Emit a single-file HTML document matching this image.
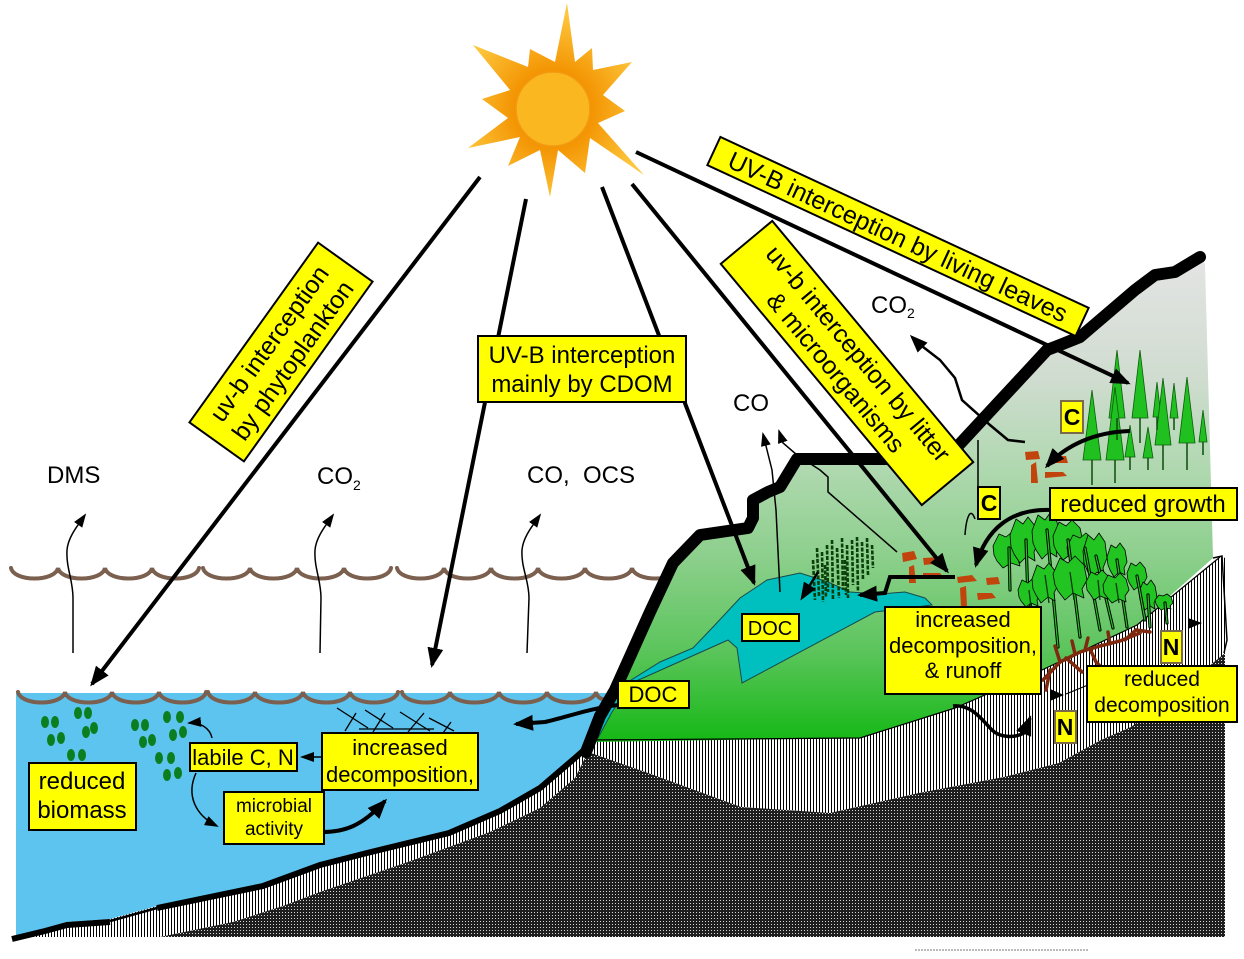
<!DOCTYPE html>
<html><head><meta charset="utf-8"><style>
html,body{margin:0;padding:0;background:#fff;}
svg{display:block;}
text{font-family:"Liberation Sans",Arial,sans-serif;fill:#000;}
</style></head><body>
<svg width="1244" height="959" viewBox="0 0 1244 959" xmlns="http://www.w3.org/2000/svg">
<defs>
<linearGradient id="mt" gradientUnits="userSpaceOnUse" x1="0" y1="257" x2="0" y2="742">
<stop offset="0" stop-color="#e4e4e4"/>
<stop offset="0.25" stop-color="#d0dcd0"/>
<stop offset="0.44" stop-color="#afd8af"/>
<stop offset="0.62" stop-color="#8ccf8c"/>
<stop offset="0.81" stop-color="#5cc55c"/>
<stop offset="1" stop-color="#15b815"/>
</linearGradient>
<radialGradient id="sun" gradientUnits="userSpaceOnUse" cx="553" cy="109" r="95">
<stop offset="0.38" stop-color="#f39200"/>
<stop offset="1" stop-color="#fdc63c"/>
</radialGradient>
<pattern id="stripe" width="3" height="10" patternUnits="userSpaceOnUse"><rect width="3" height="10" fill="#fff"/><rect width="1" height="10" fill="#000"/></pattern>
<pattern id="rock" width="3" height="3" patternUnits="userSpaceOnUse"><rect width="3" height="3" fill="#1e1e1e"/><rect width="1" height="1" fill="#d8d8d8"/></pattern>
<marker id="ab" viewBox="0 0 20 16" refX="17" refY="8" markerWidth="20" markerHeight="16" orient="auto" markerUnits="userSpaceOnUse"><path d="M0,0 L20,8 L0,16 z" fill="#000"/></marker>
<marker id="am" viewBox="0 0 18 14" refX="15" refY="7" markerWidth="18" markerHeight="14" orient="auto" markerUnits="userSpaceOnUse"><path d="M0,0 L18,7 L0,14 z" fill="#000"/></marker>
<marker id="as" viewBox="0 0 14 10" refX="12" refY="5" markerWidth="14" markerHeight="10" orient="auto" markerUnits="userSpaceOnUse"><path d="M0,0 L14,5 L0,10 z" fill="#000"/></marker>
</defs>

<rect width="1244" height="959" fill="#fff"/>

<!-- upper waves -->
<path d="M11,568 C14,582 55,582 58,568 C61,582 102,582 105,568 C108,582 149,582 152,568 C155,582 196,582 199,568 M203,568 C206,582 247,582 250,568 C253,582 294,582 297,568 C300,582 341,582 344,568 C347,582 388,582 391,568 M397,568 C400,582 441,582 444,568 C447,582 488,582 491,568 C494,582 535,582 538,568 C541,582 582,582 585,568 C588,582 629,582 632,568 C635,582 676,582 679,568" fill="none" stroke="#7b6050" stroke-width="4" stroke-linecap="round"/>

<!-- soil stripes (big) -->
<path d="M10,937 L16,937 L45,928 L67,922 L110,919 L157,906 L263,883 L320,862 L367,850 L449,830 L500,808 L540,785 L575,755 L590,740 L860,738 L955,708 L1042,670 L1137,625 L1220,557 L1226,558 L1227,640 L1226,937 Z" fill="url(#stripe)"/>
<!-- bedrock -->
<path d="M160,937 L233,922 L283,906 L320,892 L408,862 L490,832 L540,808 L575,778 L588,752 L648,773 L741,807 L830,813 L919,793 L1004,777 L1059,763 L1101,740 L1131,727 L1180,690 L1225,653 L1225,937 Z" fill="url(#rock)"/>

<!-- sea -->
<path d="M16,693 L616,693 L612,700 L598,720 L588,742 L575,755 L540,785 L500,808 L449,830 L367,850 L320,862 L263,883 L157,906 L110,919 L67,922 L45,928 L16,937 Z" fill="#5cc4ef"/>
<path d="M12,939 L45,931 L67,925 L110,922" fill="none" stroke="#000" stroke-width="6"/>
<path d="M110,921 L157,908" fill="none" stroke="#000" stroke-width="2.5"/>
<path d="M157,908 L263,886 L320,865 L367,853 L449,833 L500,811 L540,788 L575,758 L592,743" fill="none" stroke="#000" stroke-width="6"/>
<!-- lower waves -->
<path d="M18,692 C21,706 62,706 65,692 C68,706 109,706 112,692 C115,706 156,706 159,692 C162,706 203,706 206,692 M208,692 C211,706 252,706 255,692 C258,706 300,706 303,692 C306,706 347,706 350,692 C353,706 395,706 398,692 M402,692 C405,706 447,706 450,692 C453,706 496,706 499,692 C502,706 544,706 547,692 C550,706 593,706 596,692 C598,702 612,702 616,690" fill="none" stroke="#7b6050" stroke-width="4" stroke-linecap="round"/>

<!-- gas flux lines over sea -->
<g fill="none" stroke="#000" stroke-width="1.5">
<path d="M73,653 L73,598 C73,580 66,568 67,550 C68,537 78,525 85,515" marker-end="url(#as)"/>
<path d="M320,653 L321,598 C321,580 314,568 315,550 C316,537 326,525 333,515" marker-end="url(#as)"/>
<path d="M527,653 L529,598 C529,580 521,568 522,550 C523,537 533,525 540,515" marker-end="url(#as)"/>
</g>

<!-- phytoplankton -->
<g fill="#0b7f1f">
<ellipse cx="45" cy="722" rx="4" ry="6"/><ellipse cx="55" cy="722" rx="4" ry="6"/>
<ellipse cx="51" cy="740" rx="4" ry="6"/><ellipse cx="61" cy="738" rx="4" ry="6"/>
<ellipse cx="78" cy="713" rx="4" ry="6"/><ellipse cx="88" cy="713" rx="4" ry="6"/>
<ellipse cx="86" cy="732" rx="4" ry="6"/><ellipse cx="94" cy="728" rx="4" ry="6"/>
<ellipse cx="71" cy="755" rx="4" ry="6"/><ellipse cx="82" cy="755" rx="4" ry="6"/>
<ellipse cx="135" cy="725" rx="4" ry="6"/><ellipse cx="145" cy="725" rx="4" ry="6"/>
<ellipse cx="167" cy="717" rx="4" ry="6"/><ellipse cx="180" cy="717" rx="4" ry="6"/>
<ellipse cx="143" cy="742" rx="4" ry="6"/><ellipse cx="152" cy="740" rx="4" ry="6"/>
<ellipse cx="173" cy="735" rx="4" ry="6"/><ellipse cx="183" cy="732" rx="4" ry="6"/>
<ellipse cx="159" cy="758" rx="4" ry="6"/><ellipse cx="171" cy="758" rx="4" ry="6"/>
<ellipse cx="167" cy="775" rx="4" ry="6"/><ellipse cx="178" cy="773" rx="4" ry="6"/>
</g>

<!-- detritus crosses -->
<g stroke="#000" stroke-width="1.3" fill="none">
<path d="M337,708 L368,728 M356,713 L345,731 M365,710 L393,728 M385,713 L373,732 M400,712 L430,731 M424,713 L408,732 M429,718 L454,731 M451,722 L443,733 M359,729 L434,729"/>
</g>

<!-- mountain -->
<path d="M590,742 L600,716 L615,690 L650,612 L673,563 L700,535 L748,528 L753,518 L753,500 L768,492 L780,487 L797,459 L890,459 L957,447 L1047,350 L1060,345 L1080,337 L1135,290 L1155,275 L1175,272 L1200,257 L1205,264 L1213,558 L1137,625 L1042,670 L955,708 L860,738 Z" fill="url(#mt)"/>
<path d="M590,740 L860,738 L955,708 L1042,670 L1137,625 L1220,557" fill="none" stroke="#000" stroke-width="1.2"/>
<path d="M1213,558 L1222,556 L1227,640 L1224,653" fill="none" stroke="#000" stroke-width="1.5"/>

<!-- shore cyan -->
<path d="M584,744 L595,714 L610,695 L620,688 L626,692 L612,712 L598,738 Z" fill="#00bfbf" stroke="#1a4a4a" stroke-width="1"/>

<!-- lake -->
<path d="M615,690 L660,662 L693,648 L713,627 L740,598 L767,580 L800,573 L828,582 L850,592 L880,594 L905,592 L925,598 L932,605 L875,612 L742,683 L737,648 L728,640 L690,657 L643,678 Z" fill="#00bfbf" stroke="#1a4a4a" stroke-width="1"/>

<!-- reeds -->
<g stroke="#0b3f0b" stroke-width="2.6" stroke-dasharray="4,1.5" fill="none">
<path d="M813,560 L815,600"/><path d="M817,548 L819,596"/><path d="M822,552 L823,602"/>
<path d="M827,545 L828,592"/><path d="M832,540 L833,600"/><path d="M837,548 L839,598"/>
<path d="M842,538 L843,590"/><path d="M847,545 L848,598"/><path d="M852,540 L853,585"/>
<path d="M857,537 L858,592"/><path d="M862,542 L863,580"/><path d="M867,538 L868,575"/>
<path d="M872,545 L873,568"/><path d="M825,565 L826,598"/><path d="M845,560 L846,595"/>
</g>

<!-- conifers -->
<g fill="#20c020" stroke="#0c5c0c" stroke-width="0.8">
<path d="M1117,350 L1125,418 L1109,418 Z"/>
<path d="M1140,350 L1148,418 L1132,418 Z"/>
<path d="M1157,382 L1161,417 L1153,417 Z"/>
<path d="M1174,383 L1178,418 L1170,418 Z"/>
<path d="M1092,390 L1101,460 L1083,460 Z"/>
<path d="M1115,387 L1124,460 L1106,460 Z"/>
<path d="M1130,425 L1135,457 L1125,457 Z"/>
<path d="M1148,427 L1153,458 L1143,458 Z"/>
<path d="M1163,378 L1171,445 L1155,445 Z"/>
<path d="M1187,377 L1195,443 L1179,443 Z"/>
<path d="M1203,410 L1207,442 L1199,442 Z"/>
</g>
<g stroke="#0c4c0c" stroke-width="1.5">
<path d="M1092,460 L1092,485 M1115,460 L1115,483 M1140,418 L1140,443 M1130,457 L1130,470 M1148,458 L1148,470 M1157,417 L1157,430 M1163,445 L1163,470 M1174,418 L1174,430 M1187,443 L1187,470 M1203,442 L1203,455 M1117,418 L1117,440"/>
</g>

<!-- deciduous trees -->
<g fill="#22c422" stroke="#000" stroke-width="0.8" stroke-linejoin="round">
<polygon points="993,546 999,534 1006,537 1012,532 1020,539 1023,552 1018,559 1020,566 1011,563 1003,568 997,561 994,555"/>
<polygon points="1010,535 1016,519 1023,524 1028,517 1035,526 1038,542 1034,552 1035,561 1027,556 1020,563 1014,554 1011,547"/>
<polygon points="1032,531 1038,515 1045,520 1050,513 1057,522 1060,538 1056,548 1057,557 1049,552 1042,559 1036,550 1033,543"/>
<polygon points="1053,536 1059,522 1066,526 1072,520 1080,528 1083,542 1078,550 1080,558 1071,554 1063,560 1057,552 1054,546"/>
<polygon points="1067,547 1073,535 1080,538 1086,533 1094,540 1097,552 1092,558 1094,565 1085,562 1077,567 1071,560 1068,555"/>
<polygon points="1083,551 1088,535 1094,540 1099,533 1105,542 1107,558 1103,568 1105,577 1097,572 1091,579 1087,570 1084,563"/>
<polygon points="1107,557 1111,545 1116,548 1120,543 1125,550 1127,562 1124,568 1125,575 1119,572 1114,577 1110,570 1108,565"/>
<polygon points="1127,573 1131,563 1136,566 1140,562 1145,568 1147,577 1144,583 1145,589 1139,586 1134,590 1130,584 1128,580"/>
<polygon points="1139,592 1143,582 1147,585 1151,580 1155,586 1157,597 1154,603 1155,609 1150,606 1145,610 1142,604 1140,600"/>
<polygon points="1155,600 1159,595 1163,596 1167,594 1171,597 1173,603 1170,606 1171,609 1166,608 1161,610 1158,607 1156,604"/>
</g>
<g stroke-linecap="round">
<path d="M1009,548 L1010,590 M1026,540 L1028,600 M1047,530 L1058,647 M1068,540 L1080,637 M1085,548 L1100,630 M1096,556 L1113,628 M1117,560 L1127,627 M1137,576 L1145,620 M1148,595 L1150,627 M1165,603 L1167,623 M1029,593 L1034,637" stroke="#000" stroke-width="3.2"/>
<path d="M1009,548 L1010,590 M1026,540 L1028,600 M1047,530 L1058,647 M1068,540 L1080,637 M1085,548 L1100,630 M1096,556 L1113,628 M1117,560 L1127,627 M1137,576 L1145,620 M1148,595 L1150,627 M1165,603 L1167,623 M1029,593 L1034,637" stroke="#22c422" stroke-width="1.2"/>
</g>
<g fill="#22c422" stroke="#000" stroke-width="0.8" stroke-linejoin="round">
<polygon points="1018,590 1022,580 1028,583 1032,579 1038,585 1040,594 1037,600 1038,606 1031,603 1026,607 1021,601 1019,597"/>
<polygon points="1032,579 1037,565 1044,569 1049,563 1055,571 1058,585 1054,593 1055,601 1048,597 1041,603 1036,595 1033,589"/>
<polygon points="1053,574 1060,558 1068,563 1075,556 1084,565 1087,580 1082,589 1084,598 1073,593 1065,600 1058,591 1055,585"/>
<polygon points="1086,582 1091,572 1097,575 1102,570 1108,576 1110,587 1106,593 1108,599 1100,596 1094,600 1090,594 1087,590"/>
<polygon points="1103,585 1108,575 1115,578 1120,573 1126,579 1129,590 1125,596 1126,602 1119,599 1112,603 1107,597 1104,593"/>
</g>
<g stroke="#0a3a0a" stroke-width="1.3">
<path d="M1045,575 L1049,603 M1070,572 L1074,600 M1098,580 L1100,600 M1116,583 L1119,603 M1029,590 L1031,607"/>
</g>

<!-- roots -->
<g stroke="#7e2a10" stroke-width="3.5" fill="none" stroke-linecap="round">
<path d="M1043,680 L1060,662 L1080,652 L1100,646 L1120,641 L1140,633"/>
<path d="M1060,662 L1055,646 M1075,654 L1072,641 M1090,649 L1096,662 L1102,668 M1110,644 L1108,632 M1125,640 L1136,630 L1150,632 M1050,670 L1046,690 M1066,658 L1082,672 M1085,650 L1088,638"/>
</g>

<!-- litter -->
<g fill="#c0440c">
<path d="M902,553 L914,551 L917,559 L903,562 Z"/>
<path d="M923,558 L941,557 L944,563 L924,565 Z"/>
<path d="M909,567 L914,565 L916,583 L909,583 Z"/>
<path d="M923,573 L940,573 L943,577 L923,578 Z"/>
<path d="M957,577 L972,575 L977,581 L958,583 Z"/>
<path d="M986,578 L998,577 L1000,584 L987,585 Z"/>
<path d="M960,588 L966,586 L967,607 L961,607 Z"/>
<path d="M977,593 L992,593 L996,598 L978,600 Z"/>
<path d="M1025,452 L1038,451 L1040,459 L1026,460 Z"/>
<path d="M1053,456 L1066,456 L1068,463 L1054,463 Z"/>
<path d="M1031,465 L1036,462 L1038,483 L1031,483 Z"/>
<path d="M1045,472 L1063,472 L1067,476 L1045,478 Z"/>
</g>

<!-- thin flux lines on land -->
<g fill="none" stroke="#000" stroke-width="1.5">
<path d="M780,592 L776,510 L772,470 L767,450 L763,434" marker-end="url(#as)"/>
<path d="M897,552 L828,492 L828,477 L820,470 L797,455 L783,443 L779,431" marker-end="url(#as)"/>
<path d="M978,440 L978,487"/>
<path d="M975,519 C970,505 966,520 965,535"/>
</g>
<path d="M1025,442 L1008,440 L990,425 L962,400 L955,378 L940,360 L918,343 L912,337" fill="none" stroke="#000" stroke-width="2.5" marker-end="url(#am)"/>

<!-- ridge -->
<path d="M586,752 L600,716 L615,690 L650,612 L673,563 L700,535 L748,528 L753,518 L753,500 L768,492 L780,487 L797,459 L890,459 L957,447 L1047,350 L1060,345 L1080,337 L1135,290 L1155,275 L1175,272 L1200,257" fill="none" stroke="#000" stroke-width="12" stroke-linejoin="round" stroke-linecap="round"/>

<!-- sun rays -->
<g fill="none" stroke="#000" stroke-width="4">
<path d="M480,177 L92,684" marker-end="url(#ab)"/>
<path d="M526,199 L432,665" marker-end="url(#ab)"/>
<path d="M602,187 L754,583" marker-end="url(#ab)"/>
<path d="M632,184 L947,571" marker-end="url(#ab)"/>
<path d="M636,152 L1128,383" marker-end="url(#ab)"/>
</g>

<!-- process arrows -->
<g fill="none" stroke="#000">
<path d="M955,577 L890,577 L885,593 L860,595" stroke-width="4" marker-end="url(#ab)"/>
<path d="M818,572 L802,598" stroke-width="2.5" marker-end="url(#am)"/>
<path d="M618,705 C592,708 570,716 545,722 L516,724" stroke-width="4" marker-end="url(#ab)"/>
<path d="M322,832 C345,832 362,826 385,801" stroke-width="4" marker-end="url(#ab)"/>
<path d="M196,773 C186,795 195,815 217,826" stroke-width="1.5" marker-end="url(#as)"/>
<path d="M212,738 C210,728 200,722 189,723" stroke-width="1.5" marker-end="url(#as)"/>
<path d="M322,757 L302,757" stroke-width="1.5" marker-end="url(#as)"/>
<path d="M1130,431 C1095,432 1066,445 1047,466" stroke-width="4" marker-end="url(#ab)"/>
<path d="M1052,510 C1010,508 986,530 976,565" stroke-width="4" marker-end="url(#ab)"/>
<path d="M953,706 C972,704 982,720 992,730 C1000,738 1015,738 1024,733 L1030,718" stroke-width="3.5" marker-end="url(#ab)"/>
<path d="M1088,685 L1066,694" stroke-width="1.2"/>
</g>
<path d="M1050,689 L1064,695 L1050,701 Z" fill="#000"/>
<path d="M1188,618 L1202,623 L1188,629 Z" fill="#000"/>

<!-- gas labels -->
<text x="47" y="483" font-size="24">DMS</text>
<text x="317" y="484" font-size="24">CO<tspan font-size="14" dy="6">2</tspan></text>
<text x="527" y="483" font-size="24">CO,&#160; OCS</text>
<text x="733" y="411" font-size="24">CO</text>
<text x="871" y="313" font-size="24">CO<tspan font-size="14" dy="5">2</tspan></text>

<!-- boxes -->
<g fill="#ffff00" stroke="#000" stroke-width="2">
<rect x="478" y="336" width="208" height="66"/>
<rect x="29" y="763" width="107" height="67"/>
<rect x="190" y="743" width="107" height="28"/>
<rect x="322" y="733" width="156" height="57"/>
<rect x="224" y="792" width="100" height="52"/>
<rect x="618" y="681" width="71" height="27"/>
<rect x="742" y="614" width="57" height="27"/>
<rect x="885" y="607" width="156" height="87"/>
<rect x="1050" y="488" width="187" height="32"/>
<rect x="1087" y="666" width="150" height="56"/>
<rect x="978" y="487" width="22" height="32"/>
</g>
<g fill="#ffff00" stroke="#7a6a4a" stroke-width="2">
<rect x="1061" y="401" width="22" height="32"/>
<rect x="1161" y="631" width="21" height="32"/>
<rect x="1055" y="711" width="21" height="32"/>
</g>

<g text-anchor="middle">
<text x="582" y="363" font-size="24">UV-B interception</text>
<text x="582" y="392" font-size="24">mainly by CDOM</text>
<text x="82" y="789" font-size="24">reduced</text>
<text x="82" y="818" font-size="24">biomass</text>
<text x="243" y="765" font-size="22">labile C, N</text>
<text x="400" y="755" font-size="22">increased</text>
<text x="400" y="782" font-size="22">decomposition,</text>
<text x="274" y="812" font-size="19">microbial</text>
<text x="274" y="835" font-size="19">activity</text>
<text x="653" y="702" font-size="22">DOC</text>
<text x="770" y="635" font-size="20">DOC</text>
<text x="963" y="627" font-size="22">increased</text>
<text x="963" y="653" font-size="22">decomposition,</text>
<text x="963" y="678" font-size="22">&amp; runoff</text>
<text x="1143" y="512" font-size="24">reduced growth</text>
<text x="1162" y="686" font-size="21">reduced</text>
<text x="1162" y="712" font-size="21">decomposition</text>
<text x="1072" y="425" font-size="23" font-weight="bold">C</text>
<text x="989" y="511" font-size="23" font-weight="bold">C</text>
<text x="1171" y="655" font-size="23" font-weight="bold">N</text>
<text x="1065" y="735" font-size="23" font-weight="bold">N</text>
</g>

<!-- rotated labels -->
<g transform="translate(281,352) rotate(-54.4)">
<rect x="-110.5" y="-33.5" width="221" height="67" fill="#ffff00" stroke="#000" stroke-width="2"/>
<text x="0" y="-6" font-size="25" text-anchor="middle">uv-b interception</text>
<text x="0" y="23" font-size="25" text-anchor="middle">by phytoplankton</text>
</g>
<g transform="translate(898,236.5) rotate(24.9)">
<rect x="-203" y="-15.5" width="406" height="31" fill="#ffff00" stroke="#000" stroke-width="2"/>
<text x="0" y="9" font-size="25" text-anchor="middle">UV-B interception by living leaves</text>
</g>
<g transform="translate(847,363) rotate(50.2)">
<rect x="-157" y="-33.5" width="314" height="67" fill="#ffff00" stroke="#000" stroke-width="2"/>
<text x="0" y="-6" font-size="25" text-anchor="middle">uv-b interception by litter</text>
<text x="0" y="23" font-size="25" text-anchor="middle">&amp; microorganisms</text>
</g>

<!-- sun -->
<path d="M567,3 L575,62 L592,48 L593,70 L632,62 L603,95 L625,111 L598,123 L644,175 L590,138 L585,173 L558,150 L550,197 L540,150 L508,166 L520,137 L468,148 L508,118 L482,99 L510,90 L473,45 L528,67 L530,49 L555,62 Z" fill="url(#sun)"/>
<circle cx="553" cy="109" r="37" fill="#fbb71f" stroke="#f29a12" stroke-width="1.5"/>

<path d="M915,950 L1088,950" stroke="#777" stroke-width="1" stroke-dasharray="2,1"/>
</svg>
</body></html>
